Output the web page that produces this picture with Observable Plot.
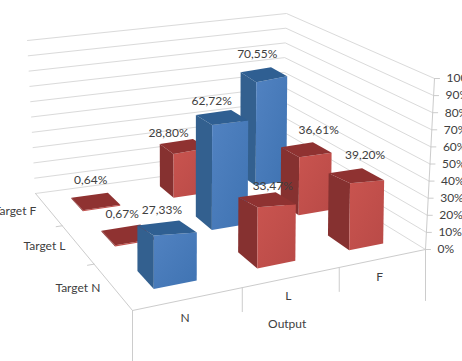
<!DOCTYPE html>
<html>
<head>
<meta charset="utf-8">
<script src="https://cdn.jsdelivr.net/npm/d3@7"></script>
<script src="https://cdn.jsdelivr.net/npm/@observablehq/plot@0.6"></script>
<style>
  html, body { margin: 0; padding: 0; background: #fff; overflow: hidden; }
  svg { display: block; }
</style>
</head>
<body>
<div id="chart"></div>
<script>
// Share of each target class assigned to each output class
const outputs = ["N", "L", "F"];
const targets = ["Target N", "Target L", "Target F"];
const targetN = [27.33, 33.47, 39.20];
const targetL = [0.67, 62.72, 36.61];
const targetF = [0.64, 28.80, 70.55];
const rows = [targetN, targetL, targetF];
const percentTicks = [0, 10, 20, 30, 40, 50, 60, 70, 80, 90, 100];

const width = 462, height = 361;

// Corners of the chart box as seen by the camera: floor and ceiling
const floorQuad = [[132, 310], [425, 249], [280, 160], [35, 193]];
const ceilQuad  = [[132, 105], [434, 78], [286, 13], [27, 40]];

// Unit square to quadrilateral homography
function homography([[x0, y0], [x1, y1], [x2, y2], [x3, y3]]) {
  const dx1 = x1 - x2, dx2 = x3 - x2, sx = x0 - x1 + x2 - x3;
  const dy1 = y1 - y2, dy2 = y3 - y2, sy = y0 - y1 + y2 - y3;
  const den = dx1 * dy2 - dx2 * dy1;
  const g = (sx * dy2 - dx2 * sy) / den;
  const h = (dx1 * sy - sx * dy1) / den;
  const a = x1 - x0 + g * x1, b = x3 - x0 + h * x3;
  const d = y1 - y0 + g * y1, e = y3 - y0 + h * y3;
  return (s, t) => {
    const w = 1 + g * s + h * t;
    return [(a * s + b * t + x0) / w, (d * s + e * t + y0) / w];
  };
}
const floorAt = homography(floorQuad);

// Full-height offset at each floor corner: the walls reach the ceiling,
// the bars use a slightly shallower rise that shrinks toward the back
const wallRise = ceilQuad.map(([x, y], i) => [x - floorQuad[i][0], y - floorQuad[i][1]]);
const barRise = [[0, -205], [3, -165], [1, -136], [-2, -145]];

function blendRise(rise, s, t) {
  const blend = i =>
    (1 - s) * (1 - t) * rise[0][i] + s * (1 - t) * rise[1][i] +
    s * t * rise[2][i] + (1 - s) * t * rise[3][i];
  return [blend(0), blend(1)];
}

// u: output position 0..3, v: target position 0..3, p: percent
function project(u, v, p, rise = wallRise) {
  const [fx, fy] = floorAt(u / 3, v / 3);
  const [rx, ry] = blendRise(rise, u / 3, v / 3);
  const k = p / 100;
  return [fx + rx * k, fy + ry * k];
}

const palette = {
  hit:  {front: "url(#front-blue)", side: "#33608f", top: "#2f5f92"},
  miss: {front: "url(#front-red)", side: "#863130", top: "#8f3231"}
};

const barShare = 0.4;
const pad = (1 - barShare) / 2;

// Flatten the cells, farthest first so nearer bars paint over them
const cells = [];
rows.forEach((row, v) => row.forEach((value, u) => cells.push({u, v, value})));
cells.sort((a, b) => d3.descending(a.v, b.v) || d3.descending(a.u, b.u));

const faces = [];
function addFace(id, fill, corners) {
  corners.forEach(([x, y]) => faces.push({id, fill, x, y}));
}
cells.forEach(({u, v, value}, i) => {
  const c = palette[u === v ? "hit" : "miss"];
  const u0 = u + pad, u1 = u + 1 - pad, v0 = v + pad, v1 = v + 1 - pad;
  const base = (a, b) => project(a, b, 0, barRise);
  const fl = project(u0, v0, value, barRise);
  // Lid corners sit a fixed step above the front-left corner on tall bars;
  // very short bars keep the plain floor outline instead
  const tip = Math.min(1, value / 25);
  const lid = (a, b, step) => {
    const [x, y] = project(a, b, value, barRise);
    return [x, y + (fl[1] - step - y) * tip];
  };
  const fr = lid(u1, v0, 3 + 1.5 * v), bl = lid(u0, v1, 10), br = lid(u1, v1, 15);
  addFace(i + "-side", c.side, [base(u0, v0), base(u0, v1), bl, fl]);
  addFace(i + "-front", c.front, [base(u0, v0), base(u1, v0), fr, fl]);
  addFace(i + "-top", c.top, [fl, fr, br, bl]);
});

// Wall gridlines, running left corner to back corner to right corner
const grid = percentTicks.flatMap(p =>
  [project(0, 3, p), project(3, 3, p), project(3, 0, p)].map(([x, y]) => ({p, x, y})));

// Axis frame and tick marks
const frame = [];
function addLine(id, pts) { pts.forEach(([x, y]) => frame.push({id, x, y})); }
addLine("floor-left", [project(0, 3, 0), project(0, 0, 0)]);
addLine("floor-front", [project(0, 0, 0), project(3, 0, 0)]);
addLine("z-axis", [project(3, 0, 0), project(3, 0, 100)]);
percentTicks.forEach(p => {
  const [x, y] = project(3, 0, p);
  addLine("z" + p, [[x, y], [x + 5, y]]);
});
[0, 1, 2, 3].forEach(u => {
  const [x, y] = project(u, 0, 0);
  addLine("x" + u, [[x, y], [x, y + (u % 3 === 0 ? 51 : 24)]]);
});
[1, 2].forEach(v => {
  addLine("y" + v, [project(0, v, 0), project(-0.06, v, 0)]);
});

// Small per-label placement tweaks so value labels clear the bars
const labelNudge = [
  [[-5, 7], [5, 10], [7, 3]],
  [[-6, 0], [-11, 7], [11, 3]],
  [[-5, -1], [-15, 9], [-9, 4]]
];

// Text layers
const font = "Lato, 'Open Sans', sans-serif";
const valueLabels = cells.map(({u, v, value}) => {
  const [x, y] = project(u + 0.5, v + 0.5, value);
  const [nx, ny] = labelNudge[v][u];
  return {x: x + nx, y: y + ny, text: value.toFixed(2).replace(".", ",") + "%"};
});
const zLabels = percentTicks.map(p => {
  const [x, y] = project(3, 0, p);
  return {x: x + 12, y, text: p + "%"};
});
const xLabels = outputs.map((text, u) => {
  const [x, y] = project(u + 0.5, 0, 0);
  return {x: x - 4, y: y + 19, text};
});
const yLabels = targets.map((text, v) => {
  const [x, y] = project(0, v + 0.5, 0);
  return {x: x - 12, y: y + 2, text};
});
const [titleX, titleY] = project(1.5, 0, 0);

// Soft lighting on the front faces
function gradients() {
  const ns = "http://www.w3.org/2000/svg";
  const defs = document.createElementNS(ns, "defs");
  [["front-blue", "#5182c1", "#3f73b2"], ["front-red", "#c9544f", "#b94a47"]].forEach(([id, a, b]) => {
    const g = document.createElementNS(ns, "linearGradient");
    g.setAttribute("id", id);
    g.setAttribute("x1", "0"); g.setAttribute("y1", "0");
    g.setAttribute("x2", "1"); g.setAttribute("y2", "1");
    [[0, a], [1, b]].forEach(([o, c]) => {
      const s = document.createElementNS(ns, "stop");
      s.setAttribute("offset", o);
      s.setAttribute("stop-color", c);
      g.append(s);
    });
    defs.append(g);
  });
  return defs;
}

const textStyle = {fontSize: 12, fontFamily: font, fill: "#404040"};

const chart = Plot.plot({
  width, height,
  margin: 0,
  x: {domain: [0, width], range: [0, width], axis: null},
  y: {domain: [0, height], range: [0, height], axis: null},
  color: {type: "identity"},
  style: {background: "#fff"},
  marks: [
    gradients,
    Plot.line(grid, {x: "x", y: "y", z: "p", stroke: "#dadada", strokeWidth: 1}),
    Plot.line(frame, {x: "x", y: "y", z: "id", stroke: "#cccccc", strokeWidth: 1}),
    Plot.line(faces, {x: "x", y: "y", z: "id", fill: "fill", stroke: "none"}),
    Plot.text(valueLabels, {x: "x", y: "y", text: "text", dy: -20, ...textStyle}),
    Plot.text(zLabels, {x: "x", y: "y", text: "text", textAnchor: "start", ...textStyle}),
    Plot.text(xLabels, {x: "x", y: "y", text: "text", ...textStyle}),
    Plot.text(yLabels, {x: "x", y: "y", text: "text", textAnchor: "end", ...textStyle}),
    Plot.text([{x: titleX - 5, y: titleY + 47}], {x: "x", y: "y", text: () => "Output", ...textStyle})
  ]
});
document.getElementById("chart").append(chart);
</script>
</body>
</html>
